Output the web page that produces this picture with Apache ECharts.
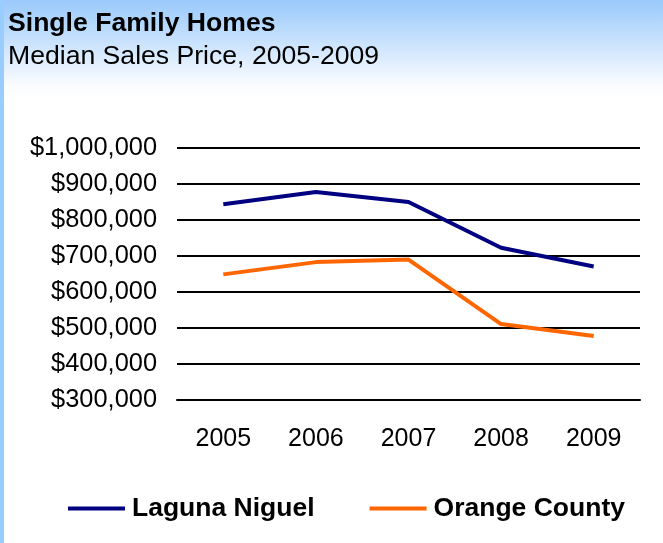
<!DOCTYPE html>
<html>
<head>
<meta charset="utf-8">
<script src="https://cdn.jsdelivr.net/npm/echarts@6/dist/echarts.min.js"></script>
<style>
html,body{margin:0;padding:0;background:#fff;}
#c{width:663px;height:543px;}
</style>
</head>
<body>
<div id="c"></div>
<script>
const years = ['2005', '2006', '2007', '2008', '2009'];
const lagunaNiguel = [844000, 878000, 850000, 723000, 671000];
const orangeCounty = [649000, 683000, 690000, 511000, 478000];
const yMin = 300000, yMax = 1000000, yStep = 100000;

const FONT = "'Liberation Sans', Arial, sans-serif";
const chart = echarts.init(document.getElementById('c'), null, {renderer: 'canvas'});
function money(v) { return '$' + v.toLocaleString('en-US'); }

chart.setOption({
  backgroundColor: '#ffffff',
  animation: false,
  graphic: [
    { type: 'rect', left: 0, top: 0, z: -10, silent: true,
      shape: { width: 663, height: 100 },
      style: { fill: new echarts.graphic.LinearGradient(0, 0, 0, 1, [
        { offset: 0, color: '#99c9fb' }, { offset: 0.85, color: '#fafcff' }, { offset: 1, color: '#ffffff' }]) } },
    { type: 'rect', left: 0, top: 0, z: -5, silent: true,
      shape: { width: 4, height: 543 }, style: { fill: '#99ccff' } }
  ],
  title: {
    text: 'Single Family Homes',
    subtext: 'Median Sales Price, 2005-2009',
    left: 3, top: 11, padding: [0, 5], itemGap: 6,
    textStyle: { fontFamily: FONT, fontSize: 26.6, fontWeight: 'bold', color: '#000', lineHeight: 26 },
    subtextStyle: { fontFamily: FONT, fontSize: 26.6, color: '#000', lineHeight: 26 }
  },
  legend: {
    left: 68, top: 495, padding: 0,
    itemWidth: 57, itemHeight: 4, itemGap: 55,
    icon: 'rect',
    textStyle: { fontFamily: FONT, fontSize: 26.5, fontWeight: 'bold', color: '#000', padding: [0, 0, 0, 2], lineHeight: 26 },
    data: ['Laguna Niguel', 'Orange County']
  },
  grid: { left: 177, right: 23, top: 148, bottom: 143, containLabel: false },
  xAxis: {
    type: 'category', data: years, boundaryGap: true,
    axisLine: { show: true, lineStyle: { color: '#000', width: 2 } },
    axisTick: { show: false },
    axisLabel: { fontFamily: FONT, fontSize: 25, color: '#000', margin: 27 }
  },
  yAxis: {
    type: 'value', min: yMin, max: yMax, interval: yStep,
    axisLine: { show: false }, axisTick: { show: false },
    splitLine: { lineStyle: { color: '#000', width: 2 } },
    axisLabel: { fontFamily: FONT, fontSize: 25.4, color: '#000', margin: 20, formatter: money }
  },
  series: [
    { name: 'Laguna Niguel', type: 'line', data: lagunaNiguel, showSymbol: false, symbol: 'none',
      lineStyle: { color: '#000080', width: 4 }, itemStyle: { color: '#000080' } },
    { name: 'Orange County', type: 'line', data: orangeCounty, showSymbol: false, symbol: 'none',
      lineStyle: { color: '#ff6600', width: 4 }, itemStyle: { color: '#ff6600' } }
  ]
});
</script>
</body>
</html>
